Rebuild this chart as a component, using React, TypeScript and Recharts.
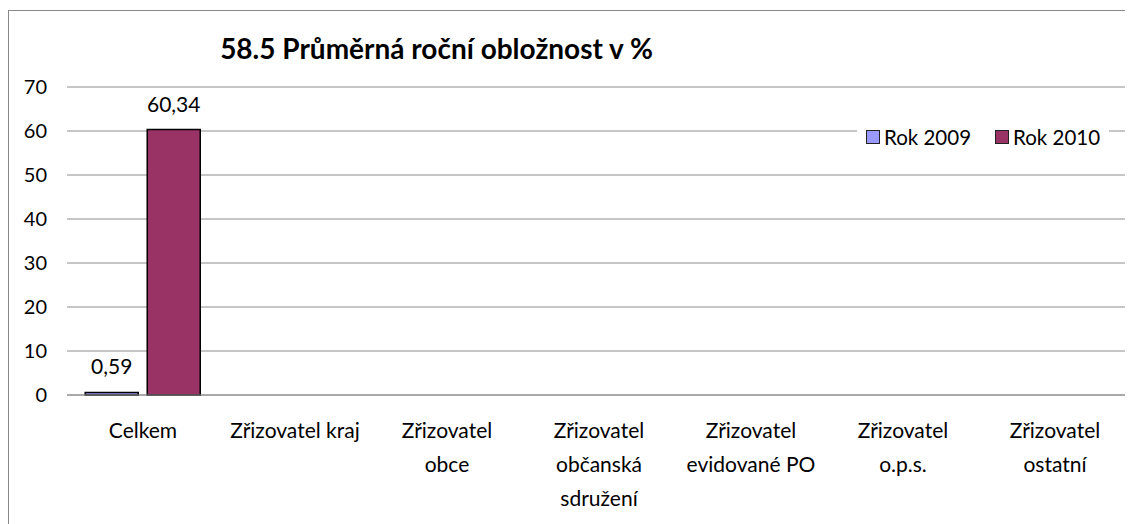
import { BarChart, Bar, XAxis, YAxis, CartesianGrid, Legend, LabelList } from "recharts";

const categories = [
  "Celkem",
  "Zřizovatel kraj",
  "Zřizovatel\nobce",
  "Zřizovatel\nobčanská\nsdružení",
  "Zřizovatel\nevidované PO",
  "Zřizovatel\no.p.s.",
  "Zřizovatel\nostatní",
];
const rok2009 = [0.59, null, null, null, null, null, null];
const rok2010 = [60.34, null, null, null, null, null, null];
const yTicks = [0, 10, 20, 30, 40, 50, 60, 70];

const data = categories.map((name, i) => ({ name, r2009: rok2009[i], r2010: rok2010[i] }));

const FONT = "Lato, 'Liberation Sans', sans-serif";

const fmt = (v: any) => (v == null ? "" : String(v).replace(".", ","));

function CategoryTick({ x, y, payload }: any) {
  const lines = String(payload.value).split("\n");
  return (
    <text x={x} y={y} textAnchor="middle" fill="#000" fontSize={21} fontFamily={FONT}>
      {lines.map((l, i) => (
        <tspan key={i} x={x} dy={i === 0 ? 35 : 34}>
          {l}
        </tspan>
      ))}
    </text>
  );
}

function LegendBox() {
  const items = [
    { label: "Rok 2009", color: "#9999FF" },
    { label: "Rok 2010", color: "#993366" },
  ];
  return (
    <div style={{ display: "flex", alignItems: "center", gap: 24, background: "#fff", padding: "0 9px", fontFamily: FONT, fontSize: 20.5, lineHeight: "24px" }}>
      {items.map((it) => (
        <div key={it.label} style={{ display: "flex", alignItems: "center", gap: 4 }}>
          <span style={{ width: 12, height: 12, background: it.color, border: "1.5px solid #222", display: "inline-block" }} />
          <span>{it.label}</span>
        </div>
      ))}
    </div>
  );
}

export default function App() {
  return (
    <div
      style={{
        position: "relative",
        width: 1124,
        height: 514,
        marginTop: 2,
        borderLeft: "1px solid #888",
        borderTop: "1px solid #888",
        background: "#fff",
      }}
    >
      <div
        style={{
          position: "absolute",
          left: 0,
          width: 855,
          top: 20,
          textAlign: "center",
          fontFamily: FONT,
          fontWeight: "bold",
          fontSize: 28,
          lineHeight: "34px",
        }}
      >
        58.5 Průměrná roční obložnost v %
      </div>
      <BarChart
        width={1124}
        height={513}
        data={data}
        margin={{ top: 76, right: 2, left: 0, bottom: 0 }}
        barCategoryGap="12%"
        barGap={9}
      >
        <CartesianGrid vertical={false} stroke="#8c8c8c" />
        <XAxis
          dataKey="name"
          interval={0}
          height={129}
          tickLine={false}
          axisLine={{ stroke: "#8c8c8c" }}
          tick={<CategoryTick />}
        />
        <YAxis
          width={58}
          domain={[0, 70]}
          ticks={yTicks}
          axisLine={false}
          tickLine={false}
          tickMargin={14}
          tick={{ fill: "#000", fontSize: 20, fontFamily: FONT }}
        />
        <Legend
          verticalAlign="middle"
          align="center"
          layout="horizontal"
          content={<LegendBox />}
          wrapperStyle={{ top: 114, left: 848, width: "auto" }}
        />
        <Bar dataKey="r2009" name="Rok 2009" fill="#9999FF" stroke="#000" strokeWidth={1.5} isAnimationActive={false}>
          <LabelList dataKey="r2009" position="top" offset={18} formatter={fmt} fill="#000" fontSize={21} fontFamily={FONT} />
        </Bar>
        <Bar dataKey="r2010" name="Rok 2010" fill="#993366" stroke="#000" strokeWidth={1.5} isAnimationActive={false}>
          <LabelList dataKey="r2010" position="top" offset={18} formatter={fmt} fill="#000" fontSize={21} fontFamily={FONT} />
        </Bar>
      </BarChart>
    </div>
  );
}
